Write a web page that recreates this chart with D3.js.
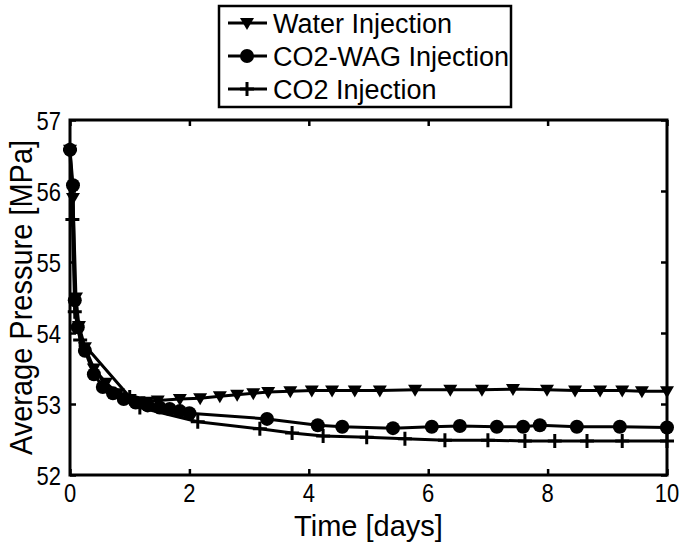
<!DOCTYPE html>
<html><head><meta charset="utf-8">
<script src="https://cdn.jsdelivr.net/npm/d3@7"></script>
<style>body{margin:0;background:#fff}svg{display:block}text{font-family:"Liberation Sans",Arial,sans-serif;fill:#000}</style>
</head><body>
<script>
const seriesNames = ["Water Injection", "CO2-WAG Injection", "CO2 Injection"];
const waterT = [0, 0.05, 0.1, 0.15, 0.25, 0.4, 0.6, 0.8, 1.0, 1.15, 1.3, 1.47, 1.84, 2.18, 2.51, 2.8, 3.07, 3.32, 3.69, 4.05, 4.39, 4.77, 5.19, 5.78, 6.37, 6.9, 7.42, 7.99, 8.46, 8.88, 9.25, 9.58, 10];
const waterP = [56.58, 55.9, 54.5, 54.1, 53.8, 53.5, 53.3, 53.15, 53.07, 53.04, 53.03, 53.05, 53.07, 53.08, 53.11, 53.13, 53.15, 53.17, 53.18, 53.19, 53.19, 53.19, 53.19, 53.2, 53.2, 53.2, 53.21, 53.2, 53.19, 53.19, 53.19, 53.18, 53.18];
const wagT = [0, 0.05, 0.08, 0.13, 0.25, 0.4, 0.55, 0.72, 0.9, 1.1, 1.3, 1.5, 1.67, 1.84, 2.0, 3.3, 4.15, 4.56, 5.41, 6.06, 6.53, 7.15, 7.59, 7.87, 8.49, 9.21, 10];
const wagP = [56.58, 56.08, 54.46, 54.08, 53.75, 53.42, 53.24, 53.15, 53.07, 53.02, 52.98, 52.95, 52.93, 52.9, 52.87, 52.79, 52.7, 52.68, 52.66, 52.68, 52.69, 52.68, 52.68, 52.7, 52.68, 52.68, 52.67];
const co2T = [0, 0.04, 0.08, 0.17, 1.0, 1.17, 2.14, 3.18, 3.72, 4.24, 4.97, 5.61, 6.28, 7.0, 7.62, 8.12, 8.66, 9.25, 10];
const co2P = [56.58, 55.6, 54.3, 53.9, 53.1, 52.95, 52.75, 52.65, 52.59, 52.55, 52.53, 52.51, 52.49, 52.49, 52.48, 52.48, 52.48, 52.48, 52.48];
const xTicks = [0, 2, 4, 6, 8, 10];
const yTicks = [52, 53, 54, 55, 56, 57];

const W = 685, H = 542;
const L = 70, R = 667, T = 120, B = 475;
const svg = d3.select("body").append("svg").attr("width", W).attr("height", H);
const x = d3.scaleLinear().domain([0, 10]).range([L, R]);
const y = d3.scaleLinear().domain([52, 57]).range([B, T]);

const series = [
  {name: seriesNames[0], t: waterT, p: waterP, m: "tri"},
  {name: seriesNames[1], t: wagT, p: wagP, m: "circ"},
  {name: seriesNames[2], t: co2T, p: co2P, m: "plus"}
];

function marker(g, type, cx, cy) {
  if (type === "tri") {
    g.append("path").attr("d", `M${cx-7},${cy-5}L${cx+7},${cy-5}L${cx},${cy+7}Z`).attr("fill", "#000");
  } else if (type === "circ") {
    g.append("circle").attr("cx", cx).attr("cy", cy).attr("r", 7).attr("fill", "#000");
  } else {
    g.append("path").attr("d", `M${cx-7},${cy}H${cx+7}M${cx},${cy-7}V${cy+7}`).attr("stroke", "#000").attr("stroke-width", 3);
  }
}

const line = d3.line().x(d => x(d[0])).y(d => y(d[1]));
series.forEach(s => {
  const pts = s.t.map((t, i) => [t, s.p[i]]);
  svg.append("path").attr("d", line(pts)).attr("fill", "none").attr("stroke", "#000").attr("stroke-width", 3).attr("stroke-linejoin", "round");
  const g = svg.append("g");
  pts.forEach(d => marker(g, s.m, x(d[0]), y(d[1])));
});

// axes box
svg.append("rect").attr("x", L).attr("y", T).attr("width", R - L).attr("height", B - T)
  .attr("fill", "none").attr("stroke", "#000").attr("stroke-width", 3);

const axB = svg.append("g").attr("transform", `translate(0,${B})`)
  .call(d3.axisBottom(x).tickValues(xTicks).tickSize(-6).tickFormat(""));
const axT = svg.append("g").attr("transform", `translate(0,${T})`)
  .call(d3.axisTop(x).tickValues(xTicks).tickSize(-6).tickFormat(""));
const axL = svg.append("g").attr("transform", `translate(${L},0)`)
  .call(d3.axisLeft(y).tickValues(yTicks).tickSize(-6).tickFormat(""));
const axR = svg.append("g").attr("transform", `translate(${R},0)`)
  .call(d3.axisRight(y).tickValues(yTicks).tickSize(-6).tickFormat(""));
[axB, axT, axL, axR].forEach(a => {
  a.select(".domain").remove();
  a.selectAll("line").attr("stroke", "#000").attr("stroke-width", 2.5);
});

// tick labels (slightly tall, as in the reference)
xTicks.forEach(v => {
  svg.append("text").attr("transform", `translate(${x(v)},${B + 27}) scale(1,1.2)`)
    .attr("text-anchor", "middle").attr("font-size", 22).text(d3.format("d")(v));
});
yTicks.forEach(v => {
  svg.append("text").attr("transform", `translate(${L - 9},${y(v) + 10}) scale(1,1.2)`)
    .attr("text-anchor", "end").attr("font-size", 22).text(d3.format("d")(v));
});

svg.append("text").attr("transform", `translate(${(L + R) / 2},536)`).attr("text-anchor", "middle")
  .attr("font-size", 29).text("Time [days]");
svg.append("text").attr("transform", `translate(32,${(T + B) / 2}) rotate(-90) scale(1,1.1)`).attr("text-anchor", "middle")
  .attr("font-size", 29).text("Average Pressure [MPa]");

// legend
const lg = svg.append("g");
lg.append("rect").attr("x", 219).attr("y", 6).attr("width", 292).attr("height", 101)
  .attr("fill", "#fff").attr("stroke", "#000").attr("stroke-width", 2.5);
series.forEach((s, i) => {
  const cy = 23 + i * 33;
  lg.append("line").attr("x1", 228).attr("x2", 267).attr("y1", cy).attr("y2", cy).attr("stroke", "#000").attr("stroke-width", 3);
  marker(lg, s.m, 247, cy);
  lg.append("text").attr("x", 273).attr("y", cy).attr("dy", "0.36em").attr("font-size", 27).text(s.name);
});
</script>
</body></html>
